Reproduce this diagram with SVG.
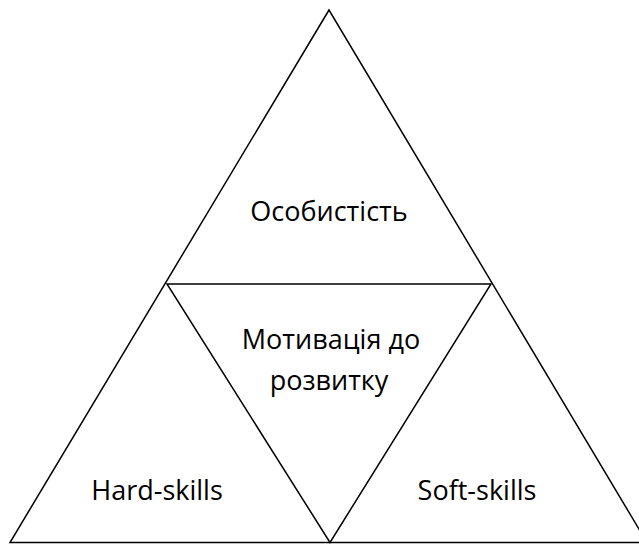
<svg xmlns="http://www.w3.org/2000/svg" width="639" height="544" viewBox="0 0 639 544">
<style>
.l{fill:none;stroke:#000;stroke-width:1.5;stroke-linejoin:miter}
.t{font-family:"Open Sans","Liberation Sans",sans-serif;font-size:27px;fill:#000;text-anchor:middle}
</style>
<rect width="639" height="544" fill="#fff"/>
<g id="connectors">
<polygon class="l" points="329,10 10,542.5 647,542.5"/>
<polygon class="l" points="167,284 491,284 330,542.5"/>
</g>
<g id="top"><text class="t" x="329" y="221">Особистість</text></g>
<g id="center"><text class="t" x="331" y="349">Мотивація до</text><text class="t" x="329" y="390">розвитку</text></g>
<g id="left"><text class="t" x="157" y="500">Hard-skills</text></g>
<g id="right"><text class="t" x="477" y="500">Soft-skills</text></g>
</svg>
